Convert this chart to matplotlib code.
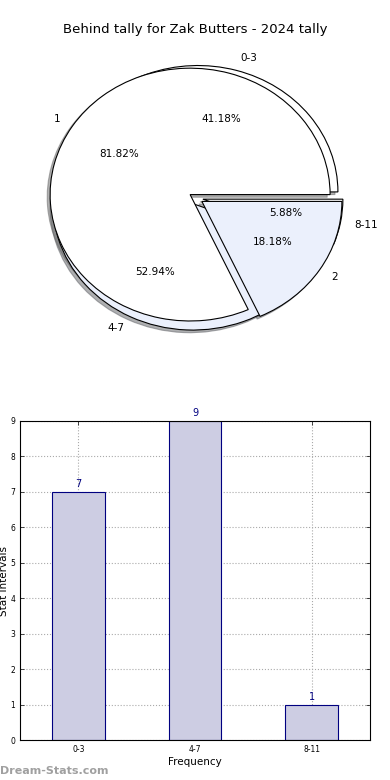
import matplotlib
matplotlib.use("Agg")
import matplotlib.pyplot as plt

title = "Behind tally for Zak Butters - 2024 tally"
range_labels = ["0-3", "4-7", "8-11"]
range_counts = [7, 9, 1]
margin_labels = ["1", "2"]
margin_counts = [9, 2]

pie_colors = ["#ffffff", "#ebf0fc"]
bar_face = "#cdcde3"
bar_edge = "#000080"

fig = plt.figure(figsize=(3.9, 7.8), dpi=100)
fig.text(0.5, 1 - 30 / 780, title, ha="center", va="center", fontsize=9.5)

# Pie axes
axp = fig.add_axes([21 / 390, 1 - 356 / 780, 350 / 390, 316 / 780])
shadow = dict(ox=-0.015, oy=-0.015, shade=0.6, alpha=0.5)
axp.pie(range_counts, labels=range_labels, colors=pie_colors,
        explode=[0.05] * len(range_counts), autopct="%1.2f%%", shadow=shadow,
        wedgeprops=dict(edgecolor="black", linewidth=0.8),
        textprops=dict(fontsize=7.5))
axp.pie(margin_counts, labels=margin_labels, colors=pie_colors,
        explode=[0.05] * len(margin_counts), autopct="%1.2f%%", shadow=shadow,
        wedgeprops=dict(edgecolor="black", linewidth=0.8),
        textprops=dict(fontsize=7.5))
axp.set_aspect("auto")
axp.set_xlim(-1.25, 1.25)
axp.set_ylim(-1.25, 1.25)
axp.axis("off")

# Bar axes
axb = fig.add_axes([20 / 390, 40 / 780, 350 / 390, 319 / 780])
x = list(range(len(range_labels)))
bars = axb.bar(x, range_counts, width=0.45, color=bar_face,
               edgecolor=bar_edge, linewidth=0.8, zorder=2)
for xi, v in zip(x, range_counts):
    axb.text(xi, v + 0.08, str(v), ha="center", va="bottom",
             color=bar_edge, fontsize=7)
axb.set_xlim(-0.5, 2.5)
axb.set_ylim(0, 9)
axb.set_xticks(x)
axb.set_xticklabels(range_labels)
axb.set_yticks(range(0, 10))
axb.tick_params(labelsize=5.5, direction="in", top=True, right=True,
                length=3, width=0.5)
axb.grid(True, linestyle=":", color="#aaaaaa", linewidth=0.8, zorder=0)
axb.set_axisbelow(True)
axb.set_xlabel("Frequency", fontsize=7.5, labelpad=2)
axb.set_ylabel("Stat Intervals", fontsize=7.5, labelpad=1)
for s in axb.spines.values():
    s.set_linewidth(0.8)

fig.text(0.0, 1 - 771 / 780, "Dream-Stats.com", ha="left", va="center",
         fontsize=8, color="#a0a0a0", fontweight="bold")

fig.savefig("out.png", dpi=100)
